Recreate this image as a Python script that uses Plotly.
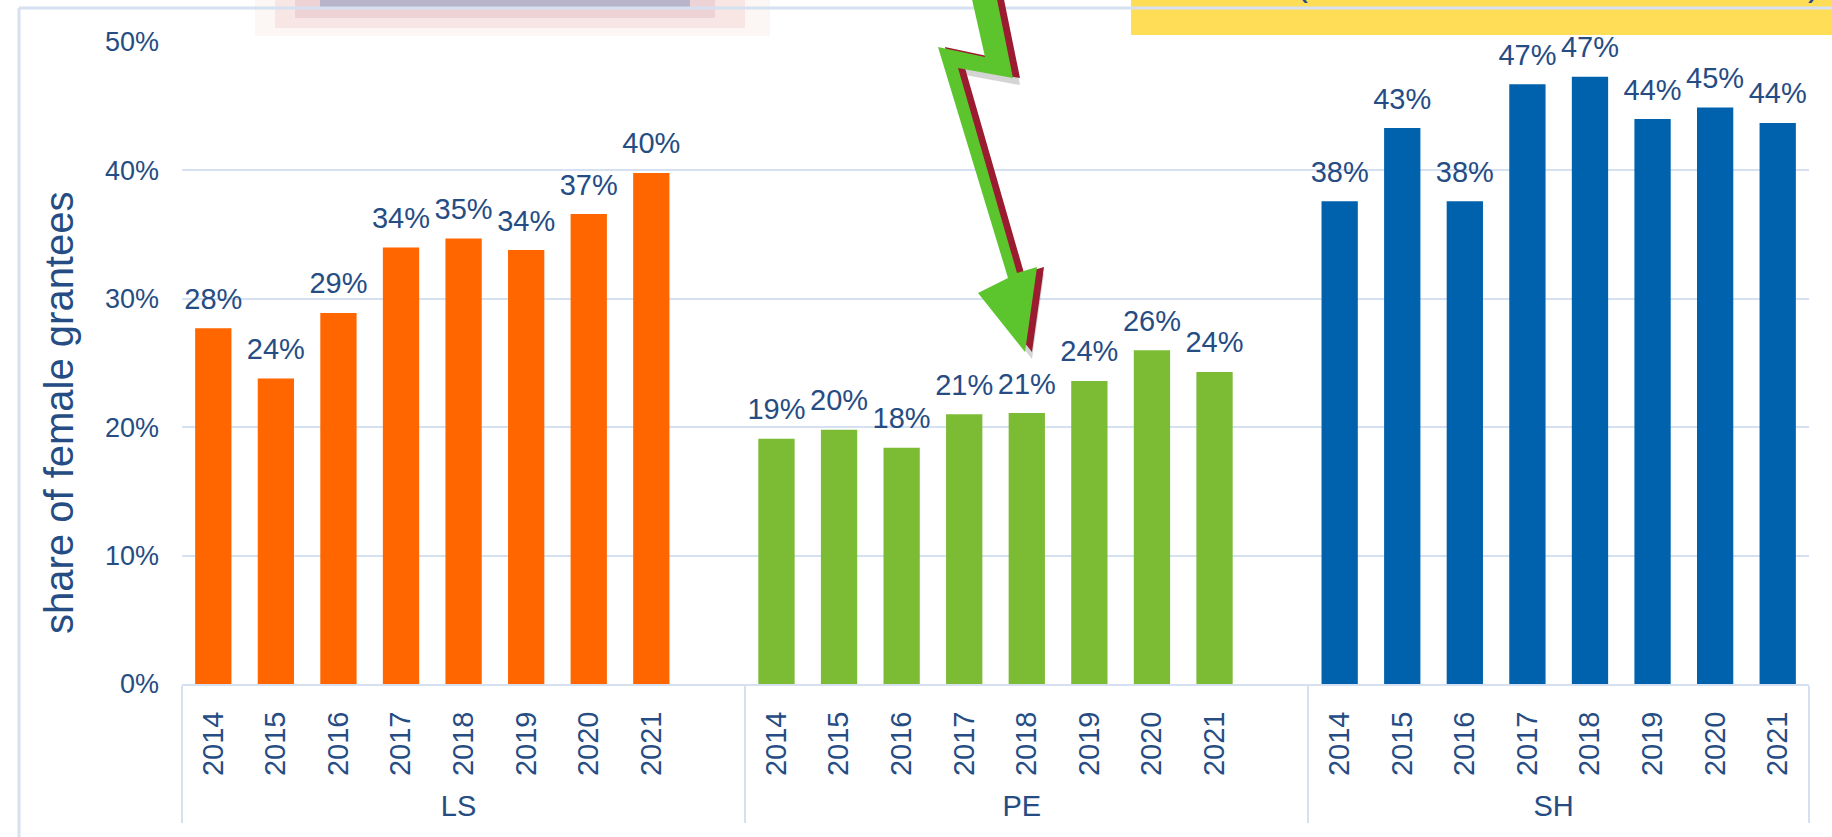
import plotly.graph_objects as go

# ---------------- data ----------------
groups = ["LS", "PE", "SH"]
years = ["2014", "2015", "2016", "2017", "2018", "2019", "2020", "2021"]
ls_share = [0.277, 0.238, 0.289, 0.340, 0.347, 0.338, 0.366, 0.398]
pe_share = [0.191, 0.198, 0.184, 0.210, 0.211, 0.236, 0.260, 0.243]
sh_share = [0.376, 0.433, 0.376, 0.467, 0.473, 0.440, 0.449, 0.437]
y_ticks = [0, 0.1, 0.2, 0.3, 0.4, 0.5]
y_title = "share of female grantees"
banner_text = "SH (Social Sciences and Humanities)"

# ---------------- style ----------------
W, H = 1832, 837
ML, MR, MT, MB = 182, 23, 42, 153
TXT = "#264C84"
GRID = "#D5E0F1"
FONT = "Liberation Sans, Arial, sans-serif"
group_colors = {"LS": "#FF6600", "PE": "#7CBB34", "SH": "#0062AD"}
blank_after = {"LS": True, "PE": True, "SH": False}

series_by_group = {"LS": ls_share, "PE": pe_share, "SH": sh_share}
outer, inner, vals, cols = [], [], [], []
for g in groups:
    for yr, v in zip(years, series_by_group[g]):
        outer.append(g)
        inner.append(yr)
        vals.append(v)
        cols.append(group_colors[g])
    if blank_after[g]:
        outer.append(g)
        inner.append(" ")
        vals.append(None)
        cols.append(group_colors[g])
n_slots = len(outer)

fig = go.Figure()
fig.add_trace(go.Bar(
    x=[outer, inner], y=vals,
    marker=dict(color=cols, line=dict(width=0)),
    hoverinfo="skip", showlegend=False,
))
fig.add_trace(go.Scatter(
    x=[outer, inner], y=vals,
    mode="markers+text",
    marker=dict(size=18, opacity=0),
    texttemplate="%{y:.0%}",
    textposition="top center",
    textfont=dict(size=29, color=TXT, family=FONT),
    cliponaxis=False, hoverinfo="skip", showlegend=False,
))

PW = W - ML - MR
PH = H - MT - MB


def px(xp):
    return (xp - ML) / PW


def py(yp):
    return (H - MB - yp) / PH


def path(points, dx=0, dy=0):
    s = ""
    for i, (a, b) in enumerate(points):
        s += ("M" if i == 0 else "L") + f"{px(a + dx):.5f},{py(b + dy):.5f} "
    return s + "Z"


shapes = []
# blurred box at top-left (decoration)
shapes.append(dict(type="rect", xref="paper", yref="paper",
                   x0=px(255), x1=px(770), y0=py(36), y1=py(-2),
                   fillcolor="#FCF6F4", line=dict(width=0), layer="below"))
shapes.append(dict(type="rect", xref="paper", yref="paper",
                   x0=px(275), x1=px(745), y0=py(28), y1=py(-2),
                   fillcolor="#F7E6E4", line=dict(width=0), layer="below"))
shapes.append(dict(type="rect", xref="paper", yref="paper",
                   x0=px(295), x1=px(715), y0=py(18), y1=py(-2),
                   fillcolor="#EDD3D6", line=dict(width=0), layer="below"))
shapes.append(dict(type="rect", xref="paper", yref="paper",
                   x0=px(320), x1=px(690), y0=py(7), y1=py(-2),
                   fillcolor="#B9B4C8", line=dict(width=0), layer="below"))
# yellow banner
shapes.append(dict(type="rect", xref="paper", yref="paper",
                   x0=px(1131), x1=px(1840), y0=py(35), y1=py(-5),
                   fillcolor="#FFDD57", line=dict(width=0), layer="below"))

annotations = [
    dict(text=y_title, xref="paper", yref="paper", x=px(59), y=py(413),
         xanchor="center", yanchor="middle", textangle=-90, showarrow=False,
         font=dict(size=40, color=TXT, family=FONT)),
    dict(text=banner_text, xref="paper", yref="paper", x=px(1822), y=py(5),
         xanchor="right", yanchor="bottom", showarrow=False,
         font=dict(size=35, color=TXT, family=FONT)),
]

# slide frame lines
shapes.append(dict(type="line", xref="paper", yref="paper",
                   x0=px(19), x1=px(1840), y0=py(8), y1=py(8),
                   line=dict(color=GRID, width=3), layer="above"))
shapes.append(dict(type="line", xref="paper", yref="paper",
                   x0=px(19), x1=px(19), y0=py(8), y1=py(840),
                   line=dict(color=GRID, width=3), layer="above"))

arrow = [(971.7, -2), (996.7, -2), (1013, 78), (958, 68), (1017, 273),
         (1037, 267), (1025, 352), (978, 293), (1008, 278), (938, 47),
         (985, 57)]
shapes.append(dict(type="path", xref="paper", yref="paper",
                   path=path(arrow, 7, 7), fillcolor="rgba(60,60,60,0.22)",
                   line=dict(width=0), layer="above"))
shapes.append(dict(type="path", xref="paper", yref="paper",
                   path=path(arrow, 7, 0), fillcolor="#9B1B30",
                   line=dict(width=0), layer="above"))
shapes.append(dict(type="path", xref="paper", yref="paper",
                   path=path(arrow), fillcolor="#5CC52E",
                   line=dict(width=0), layer="above"))

fig.update_layout(
    width=W, height=H,
    margin=dict(l=ML, r=MR, t=MT, b=MB, pad=0),
    paper_bgcolor="white", plot_bgcolor="rgba(0,0,0,0)",
    font=dict(family=FONT, color=TXT),
    bargap=0.42,
    showlegend=False,
    shapes=shapes,
    annotations=annotations,
    xaxis=dict(
        type="multicategory",
        range=[-0.5, n_slots - 0.5],
        tickangle=-90,
        tickfont=dict(size=29, color=TXT, family=FONT),
        showdividers=True, dividercolor=GRID, dividerwidth=2,
        showline=True, linecolor=GRID, linewidth=2,
        showgrid=False, ticks="", ticklabelstandoff=14,
    ),
    yaxis=dict(
        range=[0, 0.5], tickvals=y_ticks, tickformat=".0%",
        tickfont=dict(size=27, color=TXT, family=FONT),
        showgrid=True, gridcolor=GRID, gridwidth=2,
        zeroline=False, showline=False, ticks="",
        ticklabelstandoff=22,
    ),
)

fig.write_html(
    "out.html",
    config={"displayModeBar": False},
    post_script="document.body.style.margin='0';document.body.style.overflow='hidden';",
)
